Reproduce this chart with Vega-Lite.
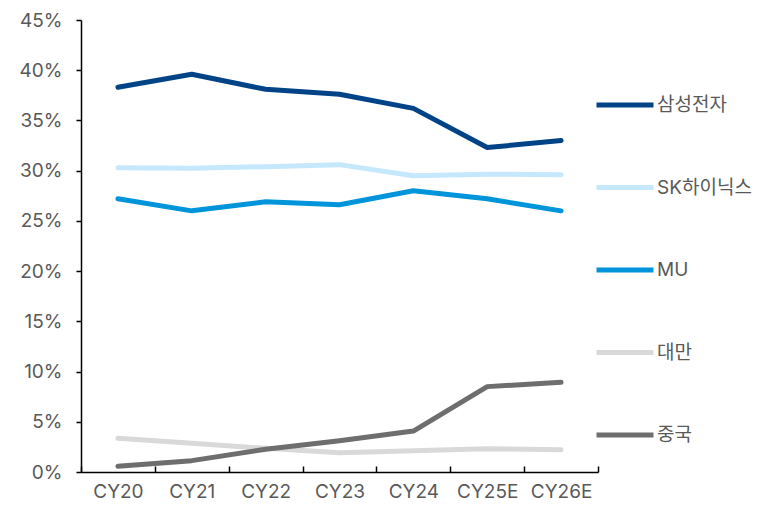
{
  "$schema": "https://vega.github.io/schema/vega-lite/v6.json",
  "width": 517,
  "height": 452,
  "autosize": {"type": "none"},
  "padding": {"left": 81, "top": 20, "right": 173, "bottom": 34},
  "background": "white",
  "config": {
    "view": {"stroke": null},
    "font": "Inter, 'Noto Sans CJK KR'",
    "axis": {"grid": false, "domainColor": "#000000", "tickColor": "#000000", "domainWidth": 1.5, "tickWidth": 1.5, "labelColor": "#595959", "labelFontSize": 19, "labelFont": "Inter, 'Noto Sans CJK KR'", "title": null}
  },
  "data": {
    "values": [
      {"year": "CY20", "series": "삼성전자", "v": 38.3},
      {"year": "CY21", "series": "삼성전자", "v": 39.6},
      {"year": "CY22", "series": "삼성전자", "v": 38.1},
      {"year": "CY23", "series": "삼성전자", "v": 37.6},
      {"year": "CY24", "series": "삼성전자", "v": 36.2},
      {"year": "CY25E", "series": "삼성전자", "v": 32.3},
      {"year": "CY26E", "series": "삼성전자", "v": 33.0},
      {"year": "CY20", "series": "SK하이닉스", "v": 30.3},
      {"year": "CY21", "series": "SK하이닉스", "v": 30.25},
      {"year": "CY22", "series": "SK하이닉스", "v": 30.4},
      {"year": "CY23", "series": "SK하이닉스", "v": 30.6},
      {"year": "CY24", "series": "SK하이닉스", "v": 29.5},
      {"year": "CY25E", "series": "SK하이닉스", "v": 29.65},
      {"year": "CY26E", "series": "SK하이닉스", "v": 29.6},
      {"year": "CY20", "series": "MU", "v": 27.2},
      {"year": "CY21", "series": "MU", "v": 26.0},
      {"year": "CY22", "series": "MU", "v": 26.9},
      {"year": "CY23", "series": "MU", "v": 26.6},
      {"year": "CY24", "series": "MU", "v": 28.0},
      {"year": "CY25E", "series": "MU", "v": 27.2},
      {"year": "CY26E", "series": "MU", "v": 26.0},
      {"year": "CY20", "series": "대만", "v": 3.36},
      {"year": "CY21", "series": "대만", "v": 2.86},
      {"year": "CY22", "series": "대만", "v": 2.36},
      {"year": "CY23", "series": "대만", "v": 1.92},
      {"year": "CY24", "series": "대만", "v": 2.12},
      {"year": "CY25E", "series": "대만", "v": 2.32},
      {"year": "CY26E", "series": "대만", "v": 2.22},
      {"year": "CY20", "series": "중국", "v": 0.57},
      {"year": "CY21", "series": "중국", "v": 1.13},
      {"year": "CY22", "series": "중국", "v": 2.26},
      {"year": "CY23", "series": "중국", "v": 3.12},
      {"year": "CY24", "series": "중국", "v": 4.08},
      {"year": "CY25E", "series": "중국", "v": 8.5},
      {"year": "CY26E", "series": "중국", "v": 8.93}
    ]
  },
  "mark": {"type": "line", "strokeWidth": 5, "strokeCap": "round", "strokeJoin": "round"},
  "encoding": {
    "x": {
      "field": "year", "type": "nominal", "sort": null,
      "scale": {"type": "band", "paddingInner": 0, "paddingOuter": 0},
      "axis": {"labelAngle": 0, "tickBand": "extent", "tickSize": -6, "labelPadding": 16}
    },
    "y": {
      "field": "v", "type": "quantitative",
      "scale": {"domain": [0, 45], "nice": false},
      "axis": {"values": [0, 5, 10, 15, 20, 25, 30, 35, 40, 45], "labelExpr": "datum.value + '%'", "tickSize": 5, "labelPadding": 14}
    },
    "color": {
      "field": "series", "type": "nominal",
      "scale": {"domain": ["삼성전자", "SK하이닉스", "MU", "대만", "중국"], "range": ["#004386", "#c5e8fd", "#0095da", "#d9d9d9", "#6e6e6e"]},
      "legend": {"title": null, "orient": "none", "legendX": 513, "legendY": 54, "symbolType": "stroke", "symbolSize": 3249, "symbolStrokeWidth": 5, "labelFont": "Inter, 'Noto Sans CJK KR'", "labelFontSize": 19, "labelColor": "#595959", "labelOffset": 1, "rowPadding": 41.5, "padding": 0}
    }
  }
}
